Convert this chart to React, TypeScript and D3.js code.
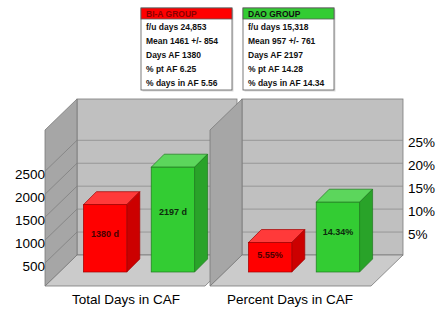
import React from "react";
import * as d3 from "d3";

const groups = ["BI-A GROUP", "DAO GROUP"];
const totalDays = [1380, 2197];
const percentDays = [5.55, 14.34];
const totalLabels = ["1380 d", "2197 d"];
const percentLabels = ["5.55%", "14.34%"];
const leftTicks = [500, 1000, 1500, 2000, 2500];
const rightTicks = [5, 10, 15, 20, 25];
const panelTitles = ["Total Days in CAF", "Percent Days in CAF"];
const biaLines = ["f/u days 24,853", "Mean 1461 +/- 854", "Days AF 1380", "% pt AF 6.25", "% days in AF 5.56"];
const daoLines = ["f/u days 15,318", "Mean 957 +/- 761", "Days AF 2197", "% pt AF 14.28", "% days in AF 14.34"];

const FONT = "'Liberation Sans', Arial, sans-serif";
const W = 441, H = 310;
const WALL_TOP = 99, FLOOR_BACK = 255;
const DX = 32, DY = 31;
const BAR_Z = 14, BAR_D = 13;

const barColors = [
  { front: "#ff0000", top: "#ff3a3a", side: "#cc0000", stroke: "#a00000", text: "#4a0000" },
  { front: "#33cc33", top: "#5cd65c", side: "#29a329", stroke: "#1f7a1f", text: "#0d2b0d" },
];

type PanelProps = {
  sideFrontX: number;
  backRight: number;
  scale: d3.ScaleLinear<number, number>;
  values: number[];
  labels: string[];
  sideGrid: boolean;
  ticks: number[];
};

function Panel({ sideFrontX, backRight, scale, values, labels, sideGrid, ticks }: PanelProps) {
  const backLeft = sideFrontX + DX;
  const floorFront = FLOOR_BACK + DY;
  const floorFrontRight = backRight - DX;
  const band = d3.scaleBand<string>().domain(groups).range([0, 160]).paddingInner(0.36).paddingOuter(0.36);
  const planeX = sideFrontX + BAR_Z;
  const yb = floorFront - BAR_Z;
  const pts = (a: number[][]) => a.map((p) => p.join(",")).join(" ");
  return (
    <g>
      <rect x={backLeft} y={WALL_TOP} width={backRight - backLeft} height={FLOOR_BACK - WALL_TOP} fill="#c0c0c0" stroke="#7a7a7a" strokeWidth={0.8} />
      {ticks.map((t) => (
        <line key={"g" + t} x1={backLeft} x2={backRight} y1={scale(t)} y2={scale(t)} stroke="#8c8c8c" strokeWidth={0.8} />
      ))}
      <polygon points={pts([[sideFrontX, floorFront], [floorFrontRight, floorFront], [backRight, FLOOR_BACK], [backLeft, FLOOR_BACK]])} fill="#cbcbcb" stroke="#7a7a7a" strokeWidth={0.8} />
      <polygon points={pts([[sideFrontX, WALL_TOP + DY], [backLeft, WALL_TOP], [backLeft, FLOOR_BACK], [sideFrontX, floorFront]])} fill="#a6a6a6" stroke="#7a7a7a" strokeWidth={0.8} />
      {sideGrid && ticks.map((t) => (
        <line key={"s" + t} x1={backLeft} y1={scale(t)} x2={sideFrontX} y2={scale(t) + DY} stroke="#7f7f7f" strokeWidth={0.8} />
      ))}
      {values.map((v, i) => {
        const c = barColors[i];
        const fx = planeX + (band(groups[i]) as number);
        const w = band.bandwidth();
        const ytb = scale(v);
        const ytf = ytb + BAR_D;
        return (
          <g key={i}>
            <polygon points={pts([[fx, ytf], [fx + w, ytf], [fx + w + BAR_D, ytf - BAR_D], [fx + BAR_D, ytf - BAR_D]])} fill={c.top} stroke={c.stroke} strokeWidth={0.7} />
            <polygon points={pts([[fx + w, ytf], [fx + w + BAR_D, ytf - BAR_D], [fx + w + BAR_D, yb - BAR_D], [fx + w, yb]])} fill={c.side} stroke={c.stroke} strokeWidth={0.7} />
            <rect x={fx} y={ytf} width={w} height={yb - ytf} fill={c.front} stroke={c.stroke} strokeWidth={0.7} />
            <text x={fx + w / 2} y={ytf + (yb - ytf) * 0.43} textAnchor="middle" dominantBaseline="central" fontFamily={FONT} fontWeight="bold" fontSize={9} fill={c.text}>
              {labels[i]}
            </text>
          </g>
        );
      })}
    </g>
  );
}

function InfoBox({ x, title, lines, head, headText }: { x: number; title: string; lines: string[]; head: string; headText: string }) {
  const y = 8, w = 91, h = 82;
  return (
    <g>
      <rect x={x + 1.5} y={y + 1.5} width={w} height={h} fill="#dcdcdc" />
      <rect x={x} y={y} width={w} height={h} fill="#ffffff" stroke="#5a5a5a" strokeWidth={0.8} />
      <rect x={x} y={y} width={w} height={11} fill={head} stroke="#5a5a5a" strokeWidth={0.8} />
      <text x={x + 5} y={y + 6} dominantBaseline="central" fontFamily={FONT} fontWeight="bold" fontSize={8.5} fill={headText}>{title}</text>
      {lines.map((l, i) => (
        <text key={i} x={x + 5} y={27 + i * 14} dominantBaseline="central" fontFamily={FONT} fontWeight="bold" fontSize={8.5} fill="#111">{l}</text>
      ))}
    </g>
  );
}

export default function App() {
  const yLeft = d3.scaleLinear().domain([0, 3400]).range([FLOOR_BACK, WALL_TOP]);
  const yRight = d3.scaleLinear().domain([0, 34]).range([FLOOR_BACK, WALL_TOP]);
  return (
    <svg width={W} height={H} style={{ position: "absolute", left: 0, top: 0, background: "#fff" }}>
      <rect width={W} height={H} fill="#fff" />
      <Panel sideFrontX={45} backRight={237} scale={yLeft} values={totalDays} labels={totalLabels} sideGrid={true} ticks={leftTicks} />
      <Panel sideFrontX={210} backRight={403} scale={yRight} values={percentDays} labels={percentLabels} sideGrid={false} ticks={rightTicks} />
      {leftTicks.map((t) => (
        <text key={t} x={45} y={yLeft(t) + DY + 3} textAnchor="end" dominantBaseline="central" fontFamily={FONT} fontSize={13.5} fill="#000">{t}</text>
      ))}
      {rightTicks.map((t) => (
        <text key={t} x={408} y={yRight(t) + 2} textAnchor="start" dominantBaseline="central" fontFamily={FONT} fontSize={13.5} fill="#000">{t + "%"}</text>
      ))}
      <text x={126} y={299} textAnchor="middle" dominantBaseline="central" fontFamily={FONT} fontSize={13.5} fill="#000">{panelTitles[0]}</text>
      <text x={290} y={299} textAnchor="middle" dominantBaseline="central" fontFamily={FONT} fontSize={13.5} fill="#000">{panelTitles[1]}</text>
      <InfoBox x={141} title={groups[0]} lines={biaLines} head="#ff0000" headText="#8b0000" />
      <InfoBox x={243} title={groups[1]} lines={daoLines} head="#33cc33" headText="#111" />
    </svg>
  );
}
